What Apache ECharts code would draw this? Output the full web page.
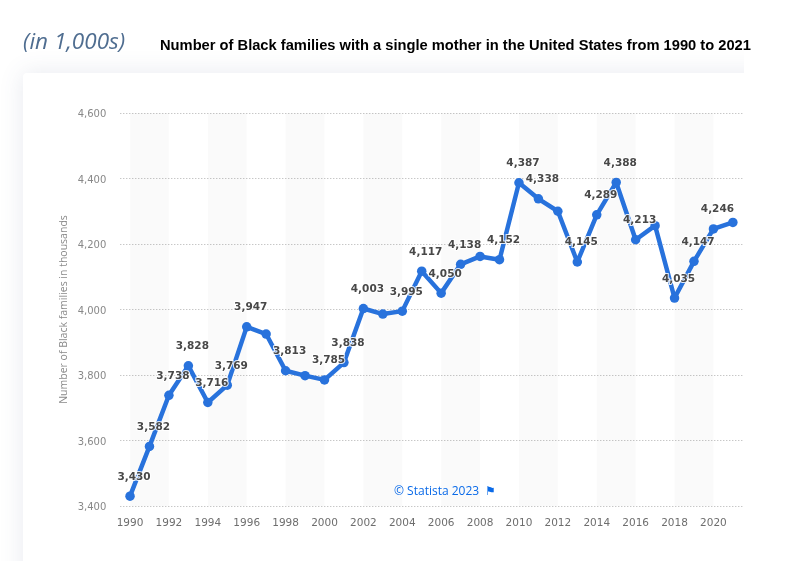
<!DOCTYPE html>
<html>
<head>
<meta charset="utf-8">
<style>
html,body{margin:0;padding:0;background:#fff;width:795px;height:561px;overflow:hidden}
#clip{position:absolute;left:0;top:0;width:744px;height:561px;overflow:hidden}
#card{position:absolute;left:23px;top:73px;width:760px;height:560px;background:#fff;border-radius:4px;box-shadow:0 0 24px rgba(70,85,130,.13)}
#chart{position:absolute;left:0;top:0;width:795px;height:561px}
</style>
<script src="https://cdn.jsdelivr.net/npm/echarts@6/dist/echarts.min.js"></script>
</head>
<body>
<div id="clip"><div id="card"></div></div>
<div id="chart"></div>
<script>
const years = ['1990','1991','1992','1993','1994','1995','1996','1997','1998','1999','2000','2001','2002','2003','2004','2005','2006','2007','2008','2009','2010','2011','2012','2013','2014','2015','2016','2017','2018','2019','2020','2021'];
const families = [3430,3582,3738,3828,3716,3769,3947,3925,3813,3798,3785,3838,4003,3986,3995,4117,4050,4138,4162,4152,4387,4338,4300,4145,4289,4388,4213,4256,4035,4147,4246,4266];
const unlabeledYears = ['1997','1999','2003','2008','2012','2017','2021'];
const bandStarts = ['1990','1994','1998','2002','2006','2010','2014','2018'];
const bandEnds = ['1992','1996','2000','2004','2008','2012','2016','2020'];
const titleText = 'Number of Black families with a single mother in the United States from 1990 to 2021';
const unitText = '(in 1,000s)';
const axisName = 'Number of Black families in thousands';
const creditText = '© Statista 2023';

const chart = echarts.init(document.getElementById('chart'), null, {renderer:'canvas'});
chart.setOption({
  animation:false,
  backgroundColor:'transparent',
  grid:{left:120.3,right:52.4,top:113,height:393,containLabel:false},
  graphic:[
    {type:'text',z:20,left:23,top:31,style:{text:unitText,font:'italic 22.5px "Open Sans"',fill:'#4f6d90'}},
    {type:'text',z:20,left:160,top:38,style:{text:titleText,font:'bold 14.7px "Liberation Sans"',fill:'#000'}},
    {type:'text',z:20,left:394,top:486,style:{text:creditText,font:'12px "Open Sans"',fill:'#0a6ae8'}},
    {type:'text',z:20,left:485,top:486,style:{text:'\u2691',font:'12px "DejaVu Sans"',fill:'#0a6ae8'}}
  ],
  xAxis:{
    type:'category',data:years,boundaryGap:true,
    axisLine:{show:false},axisTick:{show:false},splitLine:{show:false},
    axisLabel:{interval:1,color:'#6e6e6e',fontFamily:'DejaVu Sans',fontSize:10.5,margin:12}
  },
  yAxis:{
    type:'value',min:3400,max:4600,interval:200,
    name:axisName,nameLocation:'middle',nameGap:51,nameRotate:90,nameMoveOverlap:false,
    nameTextStyle:{color:'#8a8a8a',fontFamily:'Open Sans',fontSize:10.5},
    axisLine:{show:false},axisTick:{show:false},
    splitLine:{lineStyle:{color:'#b0b0b0',type:[1,2],width:1}},
    axisLabel:{color:'#888',fontFamily:'DejaVu Sans',fontSize:10,margin:14,verticalAlign:'top',lineHeight:3,
      formatter:v=>v.toLocaleString('en-US')}
  },
  series:[{
    type:'line',
    data:years.map((y,i)=>({value:families[i],label:{show:!unlabeledYears.includes(y)}})),
    lineStyle:{color:'#2872dc',width:4.5},
    itemStyle:{color:'#2872dc'},
    symbol:'circle',symbolSize:9.5,showSymbol:true,
    label:{show:true,position:'top',distance:9,offset:[4,0],
      formatter:p=>Number(p.value).toLocaleString('en-US'),
      color:'#484848',fontFamily:'DejaVu Sans',fontWeight:'bold',fontSize:10.5,
      textBorderColor:'rgba(255,255,255,0.85)',textBorderWidth:2},
    markArea:{silent:true,itemStyle:{color:'rgba(0,0,0,0.02)'},
      data:bandStarts.map((s,i)=>[{xAxis:s},{xAxis:bandEnds[i]}])},
    z:3
  }]
});
</script>
</body>
</html>
